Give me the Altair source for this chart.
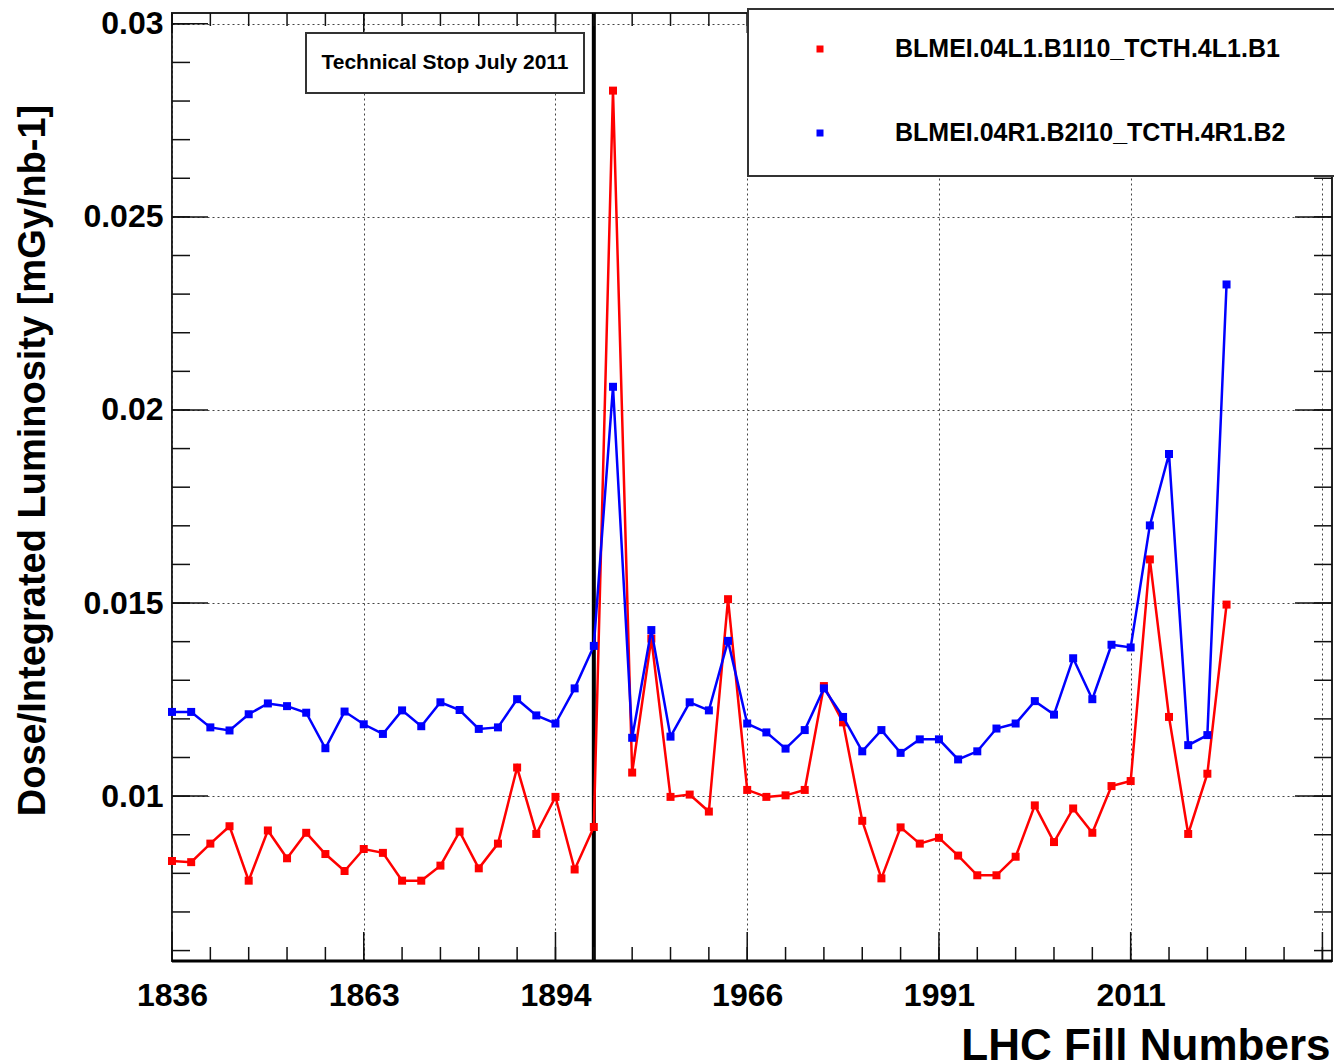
import altair as alt
import pandas as pd

# ---------------- data ----------------
series_names = ["BLMEI.04L1.B1I10_TCTH.4L1.B1", "BLMEI.04R1.B2I10_TCTH.4R1.B2"]
series_colors = ["#ff0000", "#0000ff"]

red_values = [0.00832, 0.00829, 0.00877, 0.00922, 0.00781, 0.00911, 0.00839, 0.00905, 0.00850, 0.00806,
              0.00863, 0.00853, 0.00781, 0.00781, 0.00820, 0.00908, 0.00813, 0.00877, 0.01074, 0.00902,
              0.00998, 0.00810, 0.00920, 0.02827, 0.01061, 0.01408, 0.00998, 0.01004, 0.00960, 0.01510,
              0.01016, 0.00998, 0.01002, 0.01016, 0.01285, 0.01191, 0.00936, 0.00787, 0.00919, 0.00877,
              0.00892, 0.00846, 0.00795, 0.00795, 0.00843, 0.00976, 0.00881, 0.00968, 0.00905, 0.01026,
              0.01039, 0.01613, 0.01205, 0.00902, 0.01058, 0.01496]
blue_values = [0.01218, 0.01218, 0.01178, 0.01170, 0.01212, 0.01240, 0.01233, 0.01216, 0.01124, 0.01219,
               0.01186, 0.01161, 0.01222, 0.01181, 0.01243, 0.01223, 0.01174, 0.01178, 0.01251, 0.01209,
               0.01188, 0.01279, 0.01389, 0.02060, 0.01151, 0.01430, 0.01154, 0.01243, 0.01222, 0.01402,
               0.01188, 0.01165, 0.01123, 0.01171, 0.01279, 0.01205, 0.01116, 0.01171, 0.01112, 0.01147,
               0.01147, 0.01095, 0.01116, 0.01175, 0.01188, 0.01246, 0.01211, 0.01357, 0.01251, 0.01392,
               0.01385, 0.01701, 0.01886, 0.01132, 0.01158, 0.02325]

label_index = [0, 10, 20, 30, 40, 50]
label_fill = ["1836", "1863", "1894", "1966", "1991", "2011"]
grid_index = [0, 10, 20, 30, 40, 50, 60]
x_minor = list(range(0, 61, 2))
y_major = [0.01, 0.015, 0.02, 0.025, 0.03]
y_minor = [0.006, 0.007, 0.008, 0.009, 0.010, 0.011, 0.012, 0.013, 0.014, 0.015, 0.016, 0.017,
           0.018, 0.019, 0.020, 0.021, 0.022, 0.023, 0.024, 0.025, 0.026, 0.027, 0.028, 0.029, 0.030]
stop_index = [22]
stop_text = "Technical Stop July 2011"
x_title = "LHC Fill Numbers"
y_title = "Dose/Integrated Luminosity  [mGy/nb-1]"

# ---------------- layout ----------------
W, H = 1160, 948
FONT = "Liberation Sans"
xs = alt.Scale(domain=[0, 60.5], nice=False, zero=False)
ys = alt.Scale(domain=[0.00573, 0.03028], nice=False, zero=False)

label_expr = "".join(f"datum.value == {i} ? '{t}' : " for i, t in zip(label_index, label_fill)) + "''"

x_axis = alt.Axis(values=grid_index, labelExpr=label_expr, grid=True, gridDash=[2, 3], gridColor="#444",
                  gridWidth=1, ticks=False, domain=False, labelFont=FONT, labelFontSize=32,
                  labelFontWeight="bold", labelColor="black", labelPadding=19, labelFlush=False,
                  labelOverlap=False, title=x_title, titleFont=FONT, titleFontSize=44,
                  titleFontWeight="bold", titleColor="black", titleX=1158, titleY=98,
                  titleAlign="right", titleBaseline="alphabetic")
y_axis = alt.Axis(values=y_major, format=".3~f", grid=True, gridDash=[2, 3], gridColor="#444",
                  gridWidth=1, ticks=False, domain=False, labelFont=FONT, labelFontSize=32,
                  labelFontWeight="bold", labelColor="black", labelPadding=9, labelOverlap=False,
                  labelFlush=False, title=y_title, titleFont=FONT, titleFontSize=38,
                  titleFontWeight="bold", titleColor="black", titleX=-139, titleY=447,
                  titleAngle=270, titleAlign="center", titleBaseline="middle")


def X(field):
    return alt.X(field, scale=xs, axis=x_axis)


def Y(field):
    return alt.Y(field, scale=ys, axis=y_axis)


idx = list(range(len(red_values)))
frames = [pd.DataFrame({"idx": idx, "value": red_values}),
          pd.DataFrame({"idx": idx, "value": blue_values})]

layers = []

# technical stop line
layers.append(alt.Chart(pd.DataFrame({"idx": stop_index})).mark_rule(color="black", strokeWidth=4).encode(
    x=X("idx:Q")))

for df, col in zip(frames, series_colors):
    line = alt.Chart(df).mark_line(color=col, strokeWidth=2.5).encode(x=X("idx:Q"), y=Y("value:Q"))
    pts = alt.Chart(df).mark_square(color=col, size=64, opacity=1).encode(x=X("idx:Q"), y=Y("value:Q"))
    layers += [line, pts]


def yticks(vals, length, left=True):
    x0, x1 = (0, length) if left else (W - length, W)
    return alt.Chart(pd.DataFrame({"value": vals})).mark_rule(color="#111", strokeWidth=1.5).encode(
        y=Y("value:Q"), x=alt.value(x0), x2=alt.value(x1))


def xticks(vals, length, bottom=True):
    y0, y1 = (H, H - length) if bottom else (0, length)
    return alt.Chart(pd.DataFrame({"idx": vals})).mark_rule(color="#111", strokeWidth=1.5).encode(
        x=X("idx:Q"), y=alt.value(y0), y2=alt.value(y1))


layers += [yticks(y_minor, 18), yticks(y_major, 36), yticks(y_minor, 18, False), yticks(y_major, 37, False),
           xticks(x_minor, 14), xticks(grid_index, 29), xticks(x_minor, 13, False), xticks(grid_index, 20, False)]

# thicker bottom frame
layers.append(alt.Chart(pd.DataFrame({"v": [0]})).mark_rule(color="black", strokeWidth=3).encode(
    x=alt.value(0), x2=alt.value(W), y=alt.value(H)))

# technical stop label box
layers.append(alt.Chart(pd.DataFrame({"v": [0]})).mark_rect(fill="white", stroke="#333", strokeWidth=2).encode(
    x=alt.value(134), x2=alt.value(412), y=alt.value(20), y2=alt.value(80)))
layers.append(alt.Chart(pd.DataFrame({"t": [stop_text]})).mark_text(
    font=FONT, fontSize=21, fontWeight="bold", color="black", align="center", baseline="middle").encode(
    text="t:N", x=alt.value(273), y=alt.value(50)))

# legend box
layers.append(alt.Chart(pd.DataFrame({"v": [0]})).mark_rect(fill="white", stroke="#333", strokeWidth=2).encode(
    x=alt.value(576), x2=alt.value(1172), y=alt.value(-4), y2=alt.value(163)))
for k, (name, col) in enumerate(zip(series_names, series_colors)):
    yy = 36 + 84 * k
    layers.append(alt.Chart(pd.DataFrame({"t": [name]})).mark_square(color=col, size=49, opacity=1).encode(
        x=alt.value(648), y=alt.value(yy)))
    layers.append(alt.Chart(pd.DataFrame({"t": [name]})).mark_text(
        font=FONT, fontSize=25, fontWeight="bold", color="black", align="left", baseline="middle").encode(
        text="t:N", x=alt.value(723), y=alt.value(yy)))

chart = alt.layer(*layers).properties(
    width=W, height=H,
    padding={"left": 172, "top": 13, "right": 2, "bottom": 103},
    autosize=alt.AutoSizeParams(type="none"),
    background="white",
).configure_view(stroke="#222", strokeWidth=2)

chart.save("out.html", embed_options={"renderer": "svg", "actions": False})
